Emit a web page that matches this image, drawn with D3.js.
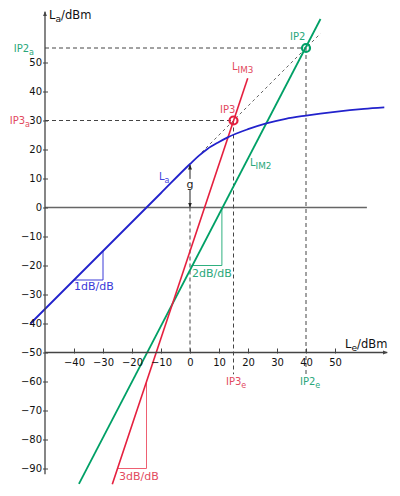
<!DOCTYPE html>
<html><head><meta charset="utf-8">
<script src="https://cdn.jsdelivr.net/npm/d3@7"></script>
<style>body{margin:0;background:#fff}svg{display:block}text{font-family:"DejaVu Sans",sans-serif}</style>
</head><body>
<script>
// ---- data (dBm) ----
const xTicks = [-40,-30,-20,-10,0,10,20,30,40,50];
const yTicks = [50,40,30,20,10,0,-10,-20,-30,-40,-50,-60,-70,-80,-90];
const blueLa = [[-55,-40],[-10,5],[0,15],[3,17.8],[6,20.2],[10,22.6],[13,24.2],[20,27],[26.3,29],[33,30.6],[40,31.7],[50,33],[60,34],[67,34.5]];
const redLIM3 = [[-26.8,-95.4],[19.9,44.6]];
const greenLIM2 = [[-38.3,-95.3],[45,65]];
const linearExt = [[4,19],[45,60]];
const IP3 = [15,30];
const IP2 = [40,55];
const gain = 15;
const slope1 = [[-40,-25],[-30,-25],[-30,-15]];
const slope2 = [[0.5,-20],[11,-20],[11,0]];
const slope3 = [[-25,-90],[-15,-90],[-15,-60]];

const W = 400, H = 496;
const blue = "#2222cc", red = "#e5203f", green = "#00a066";
const x = d3.scaleLinear().domain([-50,50]).range([45,335]);
const y = d3.scaleLinear().domain([-50,50]).range([352.5,62.5]);

const svg = d3.select("body").append("svg").attr("width",W).attr("height",H);
const line = d3.line().x(d=>x(d[0])).y(d=>y(d[1]));

// zero line
svg.append("line").attr("x1",x(-50)).attr("x2",x(61)).attr("y1",y(0)).attr("y2",y(0))
  .attr("stroke","#666").attr("stroke-width",1.5);

// dashed helper lines
const dash = (pts, opts={}) => svg.append("path").attr("d",line(pts)).attr("fill","none")
  .attr("stroke",opts.c||"#444").attr("stroke-width",opts.w||1).attr("stroke-dasharray",opts.d||"4,3");
dash([[-50,IP2[1]],IP2]);
dash([[-50,IP3[1]],IP3]);
dash([IP2,[IP2[0],-57.5]]);
dash([IP3,[IP3[0],-57.5]]);
dash([[0,0],[0,-50]]);
dash(linearExt,{c:"#555",w:0.9,d:"3,3"});

// slope triangles
svg.append("path").attr("d",line(slope1)).attr("fill","none").attr("stroke","#3a3ad8").attr("stroke-width",1);
svg.append("path").attr("d",line(slope2)).attr("fill","none").attr("stroke","#2fb07f").attr("stroke-width",1);
svg.append("path").attr("d",line(slope3)).attr("fill","none").attr("stroke","#ee6072").attr("stroke-width",1);

// main curves
svg.append("path").attr("d",line(greenLIM2)).attr("fill","none").attr("stroke",green).attr("stroke-width",1.8);
svg.append("path").attr("d",line(redLIM3)).attr("fill","none").attr("stroke",red).attr("stroke-width",1.6);
svg.append("path").attr("d",line.curve(d3.curveMonotoneX)(blueLa)).attr("fill","none").attr("stroke",blue).attr("stroke-width",1.8);
line.curve(d3.curveLinear);

// intercept circles
svg.append("circle").attr("cx",x(IP3[0])).attr("cy",y(IP3[1])).attr("r",4).attr("fill","none").attr("stroke",red).attr("stroke-width",2.2);
svg.append("circle").attr("cx",x(IP2[0])).attr("cy",y(IP2[1])).attr("r",4).attr("fill","none").attr("stroke",green).attr("stroke-width",2.2);

// markers
const defs = svg.append("defs");
defs.append("marker").attr("id","ah").attr("viewBox","0 0 10 10").attr("refX",9).attr("refY",5)
  .attr("markerWidth",5).attr("markerHeight",5).attr("orient","auto-start-reverse")
  .append("path").attr("d","M0,1L10,5L0,9z").attr("fill","#222");
defs.append("marker").attr("id","ax").attr("viewBox","0 0 10 10").attr("refX",9).attr("refY",5)
  .attr("markerWidth",4).attr("markerHeight",4).attr("orient","auto")
  .append("path").attr("d","M0,1L10,5L0,9z").attr("fill","#444");

// gain arrow
svg.append("line").attr("x1",x(0)).attr("x2",x(0)).attr("y1",y(0)-0.5).attr("y2",y(gain)+1)
  .attr("stroke","#222").attr("stroke-width",1).attr("marker-start","url(#ah)").attr("marker-end","url(#ah)");
svg.append("rect").attr("x",x(0)-4).attr("y",y(7.8)-6).attr("width",8).attr("height",11).attr("fill","#fff");
svg.append("text").attr("x",x(0)).attr("y",y(7.8)+3).attr("text-anchor","middle").attr("font-size",11).attr("fill","#222").text("g");

// axes
const yAxis = svg.append("g").attr("transform",`translate(${x(-50)},0)`)
  .call(d3.axisLeft(y).tickValues(yTicks).tickSizeInner(-3).tickSizeOuter(0).tickPadding(3).tickFormat(d3.format("d")));
yAxis.select(".domain").remove();
yAxis.selectAll(".tick line").attr("x1",-2).attr("x2",3).attr("stroke","#444");
yAxis.selectAll("text").attr("font-size",10).attr("font-family","DejaVu Sans").attr("fill","#111");

const xAxis = svg.append("g").attr("transform",`translate(0,${y(-50)})`)
  .call(d3.axisBottom(x).tickValues(xTicks).tickSizeInner(-3).tickSizeOuter(0).tickPadding(6).tickFormat(d3.format("d")));
xAxis.select(".domain").remove();
xAxis.selectAll(".tick line").attr("y1",-4).attr("y2",1).attr("stroke","#444");
xAxis.selectAll("text").attr("font-size",10).attr("font-family","DejaVu Sans").attr("fill","#111");

svg.append("line").attr("x1",x(-50)).attr("x2",x(-50)).attr("y1",y(-92)).attr("y2",y(67.5))
  .attr("stroke","#444").attr("stroke-width",1.3).attr("marker-end","url(#ax)");
svg.append("line").attr("x1",x(-50)).attr("x2",x(68)).attr("y1",y(-50)).attr("y2",y(-50))
  .attr("stroke","#444").attr("stroke-width",1.3).attr("marker-end","url(#ax)");

// text helper with subscript
function label(tx, ty, main, sub, color, size, anchor, rest, subScale){
  const t = svg.append("text").attr("x",tx).attr("y",ty).attr("fill",color).attr("font-size",size).attr("text-anchor",anchor||"start");
  t.append("tspan").text(main);
  if(sub){ t.append("tspan").attr("dy",size*0.3).attr("font-size",size*(subScale||0.8)).text(sub); }
  if(rest){ t.append("tspan").attr("dy",-size*0.3).text(rest); }
  return t;
}
label(49,19,"L","a","#111",11.5,"start","/dBm");
label(345,348,"L","e","#111",11.5,"start","/dBm");
label(34,52,"IP2","a","#2aa77a",10,"end");
label(30,124,"IP3","a","#e24a60",10,"end");
label(220,113,"IP3",null,"#e24a60",10);
label(290,40,"IP2",null,"#2aa77a",10);
label(232,70,"L","IM3","#e24a60",10,"start",null,0.88);
label(250,166,"L","IM2","#2aa77a",10,"start",null,0.88);
label(159,180,"L","a","#4444dd",10);
label(226,385,"IP3","e","#e24a60",10);
label(300,385,"IP2","e","#2aa77a",10);
label(74,290,"1dB/dB",null,"#3a3ad8",11);
label(192,277,"2dB/dB",null,"#2aa77a",11);
label(119,480,"3dB/dB",null,"#e24a60",11);
</script>
</body></html>
